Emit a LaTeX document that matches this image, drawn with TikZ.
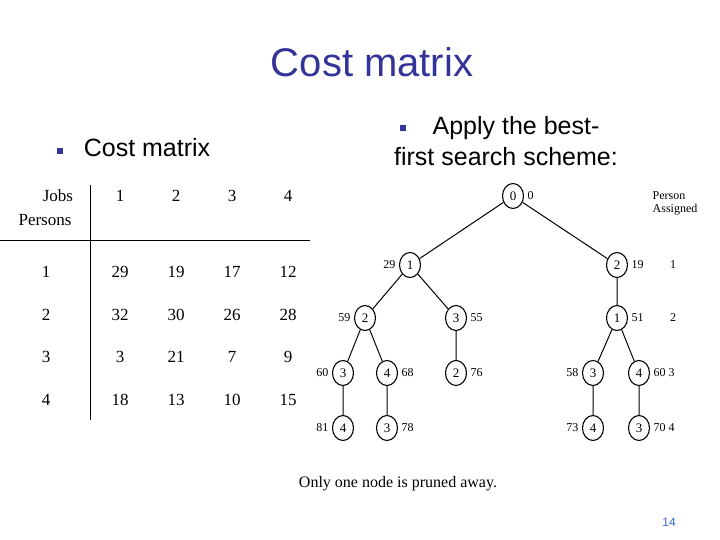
\documentclass[tikz,border=0pt]{standalone}
\usepackage{fontspec}
\usetikzlibrary{shapes.geometric}
\setmainfont{Liberation Serif}
\newfontfamily\sansf{Liberation Sans}
\definecolor{ttl}{HTML}{333399}
\definecolor{pg}{HTML}{3366CC}
\begin{document}
\begin{tikzpicture}[x=1pt,y=-1pt,line width=1pt,
  tn/.style={draw,ellipse,line width=1.1pt,minimum width=21pt,minimum height=25pt,inner sep=0pt,font=\fontsize{13}{13}\selectfont},
  lab/.style={font=\fontsize{12}{13}\selectfont,inner sep=1pt},
  cell/.style={font=\fontsize{17}{18}\selectfont},
  big/.style={font=\sansf\fontsize{25}{31}\selectfont,text=black},
  bul/.style={fill=ttl,minimum size=6pt,inner sep=0pt}]
\useasboundingbox (0,0) rectangle (720,540);
\node[font=\sansf\fontsize{40}{44}\selectfont,text=ttl] (title) at (372,62) {Cost matrix};
\node[bul] (b1) at (60,151) {};
\node[big,anchor=west] (cm) at (80,148) {Cost matrix};
\node[bul] (b2) at (403,128) {};
\node[big,align=center] (ap) at (506,141) {\hspace*{20pt}Apply the best-\\first search scheme:};
% table
\node[cell] (jobs) at (58,196) {Jobs};
\node[cell] (pers) at (45,220) {Persons};
\foreach \c/\x in {1/120,2/176,3/232,4/288} \node[cell] (h\c) at (\x,196) {\c};
\draw[line width=0.8pt] (90,185) -- (90,420);
\draw[line width=0.8pt] (0,240) -- (310,240);
\foreach \r/\y/\a/\b/\cc/\d in {1/272/29/19/17/12,2/315/32/30/26/28,3/357/3/21/7/9,4/400/18/13/10/15}{
  \node[cell] (r\r) at (46,\y) {\r};
  \node[cell] (c\r a) at (120,\y) {\a};
  \node[cell] (c\r b) at (176,\y) {\b};
  \node[cell] (c\r c) at (232,\y) {\cc};
  \node[cell] (c\r d) at (288,\y) {\d};
}
% tree
\node[tn] (n0) at (513,196) {0};
\node[tn] (n1) at (410,265) {1};
\node[tn] (n2) at (617,265) {2};
\node[tn] (n12) at (365,318) {2};
\node[tn] (n13) at (456,318) {3};
\node[tn] (n21) at (617,318) {1};
\node[tn] (a) at (343,373) {3};
\node[tn] (b) at (387,373) {4};
\node[tn] (c) at (456,373) {2};
\node[tn] (d) at (593,373) {3};
\node[tn] (e) at (639,373) {4};
\node[tn] (f) at (343,428) {4};
\node[tn] (g) at (387,428) {3};
\node[tn] (h) at (593,428) {4};
\node[tn] (i) at (639,428) {3};
\draw (n0)--(n1) (n0)--(n2) (n1)--(n12) (n1)--(n13) (n2)--(n21)
  (n12)--(a) (n12)--(b) (n13)--(c) (n21)--(d) (n21)--(e)
  (a)--(f) (b)--(g) (d)--(h) (e)--(i);
\node[lab,anchor=west] (l0) at (n0.east) {\,0};
\node[lab,anchor=east] (l1) at (n1.west) {29\,};
\node[lab,anchor=west] (l2) at (n2.east) {\,19};
\node[lab,anchor=east] (l12) at (n12.west) {59\,};
\node[lab,anchor=west] (l13) at (n13.east) {\,55};
\node[lab,anchor=west] (l21) at (n21.east) {\,51};
\node[lab,anchor=east] (la) at (a.west) {60\,};
\node[lab,anchor=west] (lbb) at (b.east) {\,68};
\node[lab,anchor=west] (lc) at (c.east) {\,76};
\node[lab,anchor=east] (ld) at (d.west) {58\,};
\node[lab,anchor=west] (le) at (e.east) {\,60 3};
\node[lab,anchor=east] (lf) at (f.west) {81\,};
\node[lab,anchor=west] (lg) at (g.east) {\,78};
\node[lab,anchor=east] (lh) at (h.west) {73\,};
\node[lab,anchor=west] (li) at (i.east) {\,70 4};
\node[lab,align=left] (pa) at (675,203) {Person\\Assigned};
\node[lab] (p1) at (673,265) {1};
\node[lab] (p2) at (673,318) {2};
\node[font=\fontsize{16}{17}\selectfont] (note) at (398,484) {Only one node is pruned away.};
\node[font=\sansf\fontsize{12}{12}\selectfont,text=pg] (pgn) at (669,522) {14};
\end{tikzpicture}
\end{document}
